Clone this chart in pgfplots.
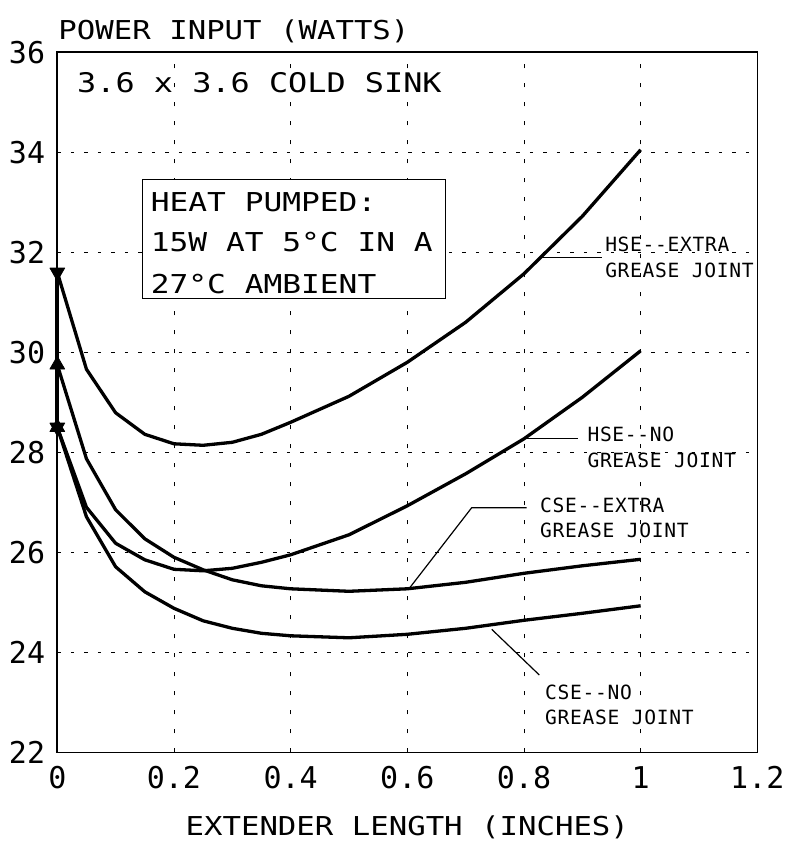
\documentclass[border=0pt]{standalone}
\usepackage{fontspec}
\usepackage{pgfplots}
\pgfplotsset{compat=1.18}
\newfontfamily\pf{DejaVu Sans Mono}
\newfontfamily\pfA[FakeStretch=1.18]{DejaVu Sans Mono}
\newfontfamily\pfB[FakeStretch=1.2]{DejaVu Sans Mono}
\newfontfamily\pfC[LetterSpace=3.5]{DejaVu Sans Mono}

\begin{document}
\begin{tikzpicture}
\begin{axis}[
    scale only axis,
    width=700pt, height=700pt,
    xmin=0, xmax=1.2, ymin=22, ymax=36,
    xtick={0,0.2,...,1.2}, ytick={22,24,...,36},
    major tick length=0pt,
    /pgf/number format/assume math mode=true,
    ticklabel style={font=\fontsize{30pt}{30pt}\pf, inner sep=0pt},
    xticklabel style={anchor=north, yshift=-14pt},
    yticklabel style={anchor=east, xshift=-12pt},
    grid=major,
    x grid style={black, line width=0.9pt, dash pattern=on 4pt off 15pt},
    y grid style={black, line width=0.9pt, dash pattern=on 3.5pt off 10pt},
    axis line style={line width=1.6pt},
    clip=false,
    every axis plot/.append style={black, line width=3.3pt, line join=round},
  ]
% vertical stroke at x = 0
\addplot[no marks, line width=3.6pt] coordinates {(0,28.5) (0,31.6)};
% HSE--extra grease joint
\addplot[mark=triangle*, mark indices={1}, mark size=8.5pt,
  mark options={rotate=180, line width=0.8pt}] coordinates {
  (0,31.6) (0.05,29.66) (0.1,28.79) (0.15,28.36) (0.2,28.17) (0.25,28.14)
  (0.3,28.2) (0.35,28.36) (0.4,28.6) (0.5,29.12) (0.6,29.8) (0.7,30.6)
  (0.8,31.57) (0.9,32.72) (1,34.05)};
% HSE--no grease joint
\addplot[mark=triangle*, mark indices={1}, mark size=8.5pt,
  mark options={rotate=180, line width=0.8pt}] coordinates {
  (0,28.5) (0.05,26.9) (0.1,26.18) (0.15,25.85) (0.2,25.66) (0.25,25.63)
  (0.3,25.68) (0.35,25.8) (0.4,25.95) (0.5,26.35) (0.6,26.93) (0.7,27.57)
  (0.8,28.27) (0.9,29.1) (1,30.03)};
% CSE--extra grease joint
\addplot[mark=triangle*, mark indices={1}, mark size=8.5pt,
  mark options={line width=0.8pt}] coordinates {
  (0,29.75) (0.05,27.87) (0.1,26.85) (0.15,26.27) (0.2,25.9) (0.25,25.65)
  (0.3,25.45) (0.35,25.33) (0.4,25.27) (0.5,25.22) (0.6,25.27) (0.7,25.4)
  (0.8,25.58) (0.9,25.73) (1,25.86)};
% CSE--no grease joint
\addplot[mark=triangle*, mark indices={1}, mark size=8.5pt,
  mark options={line width=0.8pt}] coordinates {
  (0,28.5) (0.05,26.71) (0.1,25.71) (0.15,25.21) (0.2,24.88) (0.25,24.63)
  (0.3,24.48) (0.35,24.38) (0.4,24.33) (0.5,24.29) (0.6,24.36) (0.7,24.48)
  (0.8,24.64) (0.9,24.78) (1,24.93)};

% axis titles
\node[anchor=base west, inner sep=0pt, font=\fontsize{26pt}{26pt}\pfA]
  at (rel axis cs:0,1) [xshift=1pt, yshift=13pt] {POWER INPUT (WATTS)};
\node[anchor=base, inner sep=0pt, font=\fontsize{26pt}{26pt}\pfA]
  at (rel axis cs:0.5,0) [yshift=-83pt] {EXTENDER LENGTH (INCHES)};

% annotations
\node[anchor=west, inner sep=0pt, font=\fontsize{27pt}{27pt}\pfA]
  at (axis cs:0.0338,35.40) {3.6 x 3.6 COLD SINK};
\draw[line width=1pt, fill=white] (axis cs:0.1464,33.46) rectangle (axis cs:0.6647,31.08);
\begin{scope}[every node/.style={anchor=west, inner sep=0pt, font=\fontsize{26pt}{26pt}\pfB}]
\node at (axis cs:0.1601,33.006) {HEAT PUMPED:};
\node at (axis cs:0.1601,32.196) {15W AT 5°C IN A};
\node at (axis cs:0.1601,31.366) {27°C AMBIENT};
\end{scope}

\begin{scope}[every node/.style={anchor=west, inner sep=0pt, font=\fontsize{19.6pt}{19.6pt}\pfC}]
\node at (axis cs:0.9390,32.156) {HSE-{}-EXTRA};
\node at (axis cs:0.9390,31.63) {GREASE JOINT};
\node at (axis cs:0.9086,28.352) {HSE-{}-NO};
\node at (axis cs:0.9086,27.83) {GREASE JOINT};
\node at (axis cs:0.8275,26.936) {CSE-{}-EXTRA};
\node at (axis cs:0.8275,26.43) {GREASE JOINT};
\node at (axis cs:0.8361,23.196) {CSE-{}-NO};
\node at (axis cs:0.8361,22.696) {GREASE JOINT};
\end{scope}
\draw[line width=1.2pt] (axis cs:0.8305,31.90) -- (axis cs:0.9333,31.90);
\draw[line width=1.2pt] (axis cs:0.8018,28.28) -- (axis cs:0.8932,28.28);
\draw[line width=1.2pt] (axis cs:0.6035,25.28) -- (axis cs:0.7104,26.892) -- (axis cs:0.8047,26.892);
\draw[line width=1.2pt] (axis cs:0.7447,24.46) -- (axis cs:0.8263,23.546);
\end{axis}
\pgfresetboundingbox
\path (current axis.south west) ++(-57.3pt,-89.7pt) rectangle ++(788pt,842pt);
\end{tikzpicture}
\end{document}
